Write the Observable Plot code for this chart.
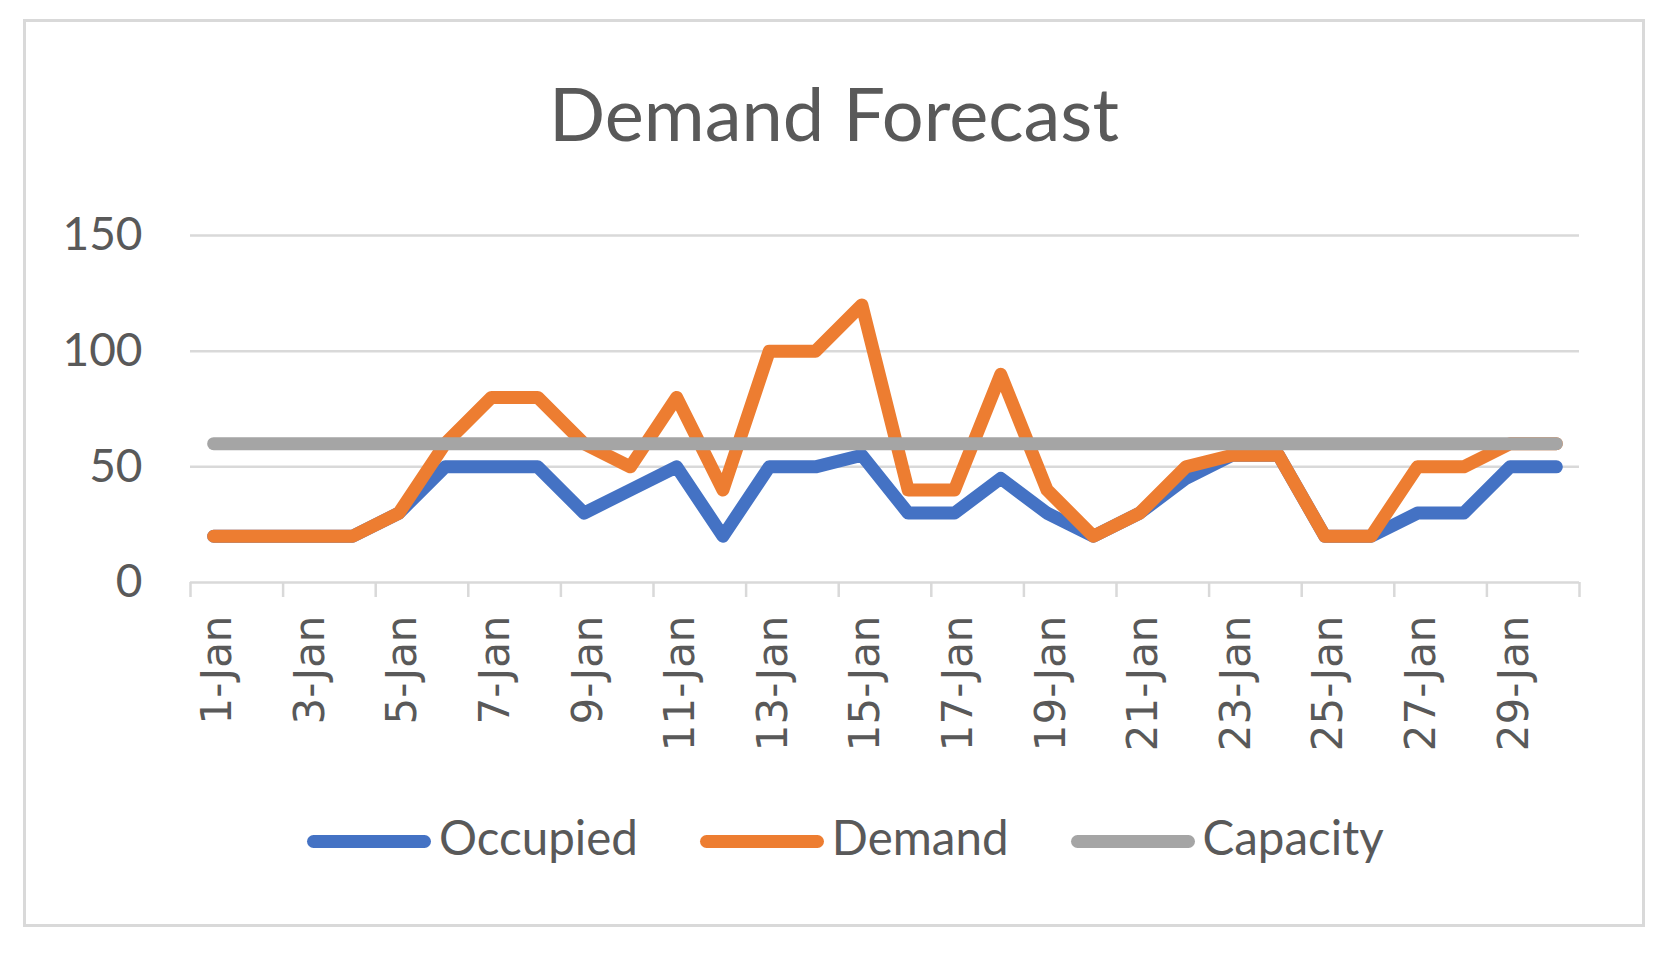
<!DOCTYPE html>
<html>
<head>
<meta charset="utf-8">
<script src="https://cdn.jsdelivr.net/npm/d3@7"></script>
<script src="https://cdn.jsdelivr.net/npm/@observablehq/plot@0.6"></script>
<style>
  html, body { margin: 0; padding: 0; background: #ffffff; }
  #wrap { position: relative; width: 1674px; height: 954px; overflow: hidden; background: #fff; }
  #frame { position: absolute; left: 23px; top: 19px; width: 1622px; height: 908px;
           box-sizing: border-box; border: 3px solid #D9D9D9; }
  #title { position: absolute; left: 0; width: 1668px; top: 76px; text-align: center;
           font-family: Lato, "Open Sans", sans-serif; font-size: 74px; line-height: 1;
           color: #595959; white-space: nowrap; }
  #chart { position: absolute; left: 0; top: 180px; }
  #legend { position: absolute; left: 307px; top: 813px; display: flex; align-items: flex-start;
            font-family: Lato, "Open Sans", sans-serif; font-size: 47.5px; line-height: 1; color: #595959; }
  .item { display: flex; align-items: flex-start; margin-right: 62px; }
  .sw { display: inline-block; width: 124px; height: 13px; border-radius: 6.5px; margin-top: 22px; margin-right: 8px; }
</style>
</head>
<body>
<div id="wrap">
  <div id="frame"></div>
  <div id="title">Demand Forecast</div>
  <div id="chart"></div>
  <div id="legend"></div>
</div>
<script>
// ---- data ----
const days = [1,2,3,4,5,6,7,8,9,10,11,12,13,14,15,16,17,18,19,20,21,22,23,24,25,26,27,28,29,30];
const dayLabels = ["1-Jan","2-Jan","3-Jan","4-Jan","5-Jan","6-Jan","7-Jan","8-Jan","9-Jan","10-Jan",
  "11-Jan","12-Jan","13-Jan","14-Jan","15-Jan","16-Jan","17-Jan","18-Jan","19-Jan","20-Jan",
  "21-Jan","22-Jan","23-Jan","24-Jan","25-Jan","26-Jan","27-Jan","28-Jan","29-Jan","30-Jan"];
const occupied = [20,20,20,20,30,50,50,50,30,40,50,20,50,50,55,30,30,45,30,20,30,45,55,55,20,20,30,30,50,50];
const demand   = [20,20,20,20,30,60,80,80,60,50,80,40,100,100,120,40,40,90,40,20,30,50,55,55,20,20,50,50,60,60];
const capacity = [60,60,60,60,60,60,60,60,60,60,60,60,60,60,60,60,60,60,60,60,60,60,60,60,60,60,60,60,60,60];
const yTicks = [0, 50, 100, 150];
const seriesNames = ["Occupied", "Demand", "Capacity"];
const seriesColors = ["#4472C4", "#ED7D31", "#A5A5A5"];

const table = days.map((d, i) => ({day: d, label: dayLabels[i], occupied: occupied[i], demand: demand[i], capacity: capacity[i]}));
const labelDays = days.filter((d, i) => i % 2 === 0);
const boundaryTicks = [days[0] - 0.5].concat(days.filter((d, i) => i % 2 === 1).map(d => d + 0.5));

const lineOpts = {strokeWidth: 13, strokeLinecap: "round", strokeLinejoin: "round"};

const chart = Plot.plot({
  width: 1674,
  height: 600,
  marginLeft: 190,
  marginRight: 95,
  marginTop: 55,
  marginBottom: 198,
  style: {background: "transparent", color: "#595959", fontFamily: "Lato, 'Open Sans', sans-serif", overflow: "visible"},
  x: {type: "linear", domain: [days[0] - 0.5, days[days.length - 1] + 0.5]},
  y: {domain: [0, 150]},
  marks: [
    Plot.gridY(yTicks.slice(1), {stroke: "#D9D9D9", strokeOpacity: 1, strokeWidth: 2.5}),
    Plot.ruleY([0], {stroke: "#D9D9D9", strokeWidth: 2.5}),
    Plot.axisY(yTicks, {tickSize: 0, tickPadding: 48, fontSize: 46, fill: "#595959", label: null, fontFamily: "Lato, 'Open Sans', sans-serif"}),
    Plot.axisX(boundaryTicks, {tickSize: 15, stroke: "#D9D9D9", strokeWidth: 2.5, strokeOpacity: 1, tickFormat: () => "", label: null}),
    Plot.axisX(labelDays, {tickSize: 0, tickPadding: 33, tickRotate: -90, dx: 4, tickFormat: d => dayLabels[d - 1],
      fontSize: 42, fontFamily: "'DejaVu Sans', Verdana, sans-serif", fill: "#595959", label: null}),
    Plot.lineY(table, {x: "day", y: "occupied", stroke: seriesColors[0], ...lineOpts}),
    Plot.lineY(table, {x: "day", y: "demand", stroke: seriesColors[1], ...lineOpts}),
    Plot.lineY(table, {x: "day", y: "capacity", stroke: seriesColors[2], ...lineOpts})
  ]
});
document.getElementById("chart").appendChild(chart);

const legend = document.getElementById("legend");
seriesNames.forEach((name, i) => {
  const item = document.createElement("div");
  item.className = "item";
  const sw = document.createElement("span");
  sw.className = "sw";
  sw.style.background = seriesColors[i];
  const tx = document.createElement("span");
  tx.textContent = name;
  item.appendChild(sw);
  item.appendChild(tx);
  legend.appendChild(item);
});
</script>
</body>
</html>
